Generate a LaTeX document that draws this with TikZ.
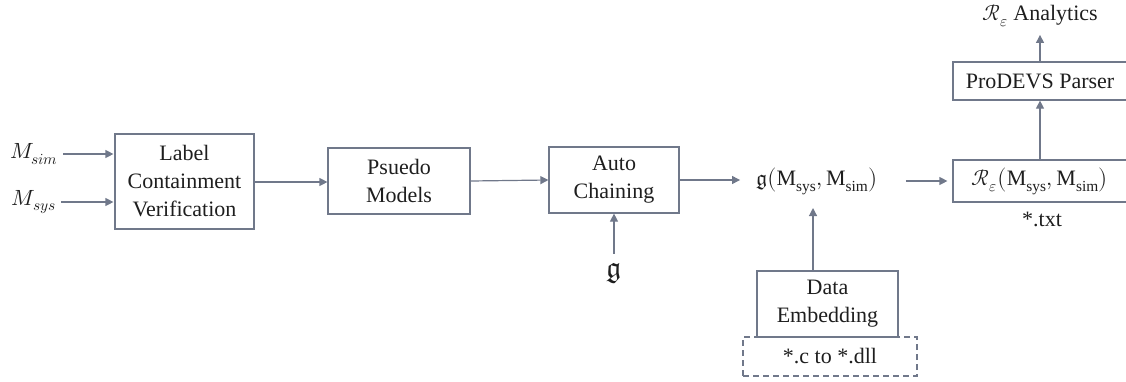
\documentclass[tikz,border=0pt]{standalone}
\usepackage{fontspec}
\usepackage{unicode-math}
\setmainfont{Liberation Serif}
\setmathfont{Latin Modern Math}
\usetikzlibrary{arrows.meta}
\definecolor{ln}{RGB}{112,120,138}
\definecolor{tx}{RGB}{30,30,30}
\begin{document}
\begin{tikzpicture}[x=1pt,y=-1pt,
  every node/.style={text=tx,font=\fontsize{22}{28}\selectfont},
  box/.style={draw=ln,line width=1.2pt,align=center,inner sep=0pt},
  arr/.style={draw=ln,line width=1.2pt,-{Triangle[length=8pt,width=8pt]}},
  lbl/.style={inner sep=0pt}]
\useasboundingbox (0,0) rectangle (1126,381);
% nodes
\node[box,minimum width=139pt,minimum height=95pt] (lcv) at (184.5,181.5) {Label\\Containment\\Verification};
\node[box,minimum width=142pt,minimum height=66pt] (pm) at (399,181) {Psuedo\\Models};
\node[box,minimum width=130pt,minimum height=66pt] (ac) at (614,180) {Auto\\Chaining};
\node[box,minimum width=174pt,minimum height=42pt] (rb) at (1040,181) {$\mathcal{R}_{\varepsilon}\bigl(\mathrm{M}_{\mathrm{sys}},\mathrm{M}_{\mathrm{sim}}\bigr)$};
\node[box,minimum width=174pt,minimum height=38pt] (pp) at (1040,81) {ProDEVS Parser};
\node[box,minimum width=141pt,minimum height=66pt] (de) at (827.5,304) {Data\\Embedding};
\node[box,dash pattern=on 6pt off 4pt,minimum width=174pt,minimum height=39pt] (dl) at (830,356.5) {*.c to *.dll};
\node[lbl] (ms) at (34,154) {$M_{sim}$};
\node[lbl] (my) at (34,202) {$M_{sys}$};
\node[lbl,font=\fontsize{30}{34}\selectfont] (gg) at (614,274) {$\mathfrak{g}$};
\node[lbl,inner xsep=14pt] (gt) at (817,181) {$\mathfrak{g}\bigl(\mathrm{M}_{\mathrm{sys}},\mathrm{M}_{\mathrm{sim}}\bigr)$};
\node[lbl] (an) at (1040,16) {$\mathcal{R}_{\varepsilon}$ Analytics};
\node[lbl] (tt) at (1042,219) {*.txt};
\coordinate (gin) at (813,208);
% connectors
\draw[arr,shorten <=5pt,shorten >=1pt] (ms.east) -- (ms -| lcv.west);
\draw[arr,shorten <=5pt,shorten >=1pt] (my.east) -- (my -| lcv.west);
\draw[arr] (lcv.east |- 0,182) -- (pm.west |- 0,182);
\draw[arr] (pm.east) -- (ac.west);
\draw[arr,shorten <=10pt] (gg.north) -- (ac.south);
\draw[arr,shorten >=2pt] (ac.east) -- (ac.east -| gt.west);
\draw[arr,shorten <=14pt,shorten >=5pt] (gt.east) -- (rb.west |- gt);
\draw[arr] (de.north -| gin) -- (gin);
\draw[arr] (rb.north) -- (pp.south);
\draw[arr,shorten >=8pt] (pp.north) -- (an.south);
\end{tikzpicture}
\end{document}
